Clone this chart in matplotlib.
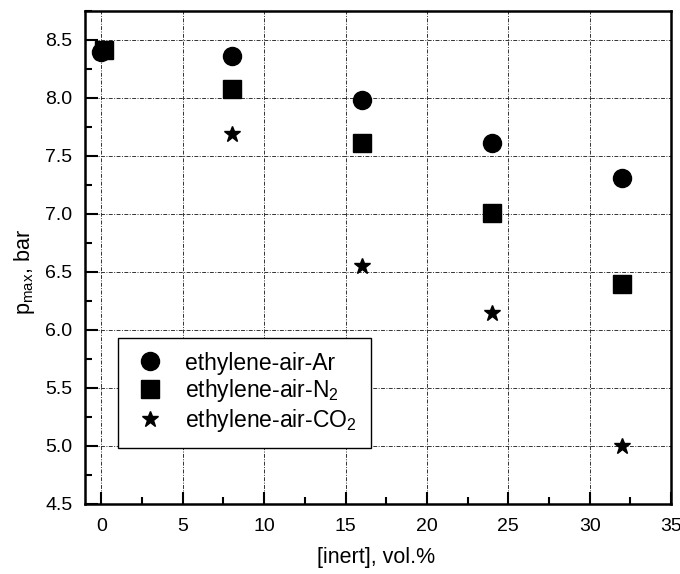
import matplotlib.pyplot as plt
from matplotlib.ticker import MultipleLocator

plt.rcParams['font.family'] = ['Liberation Sans', 'DejaVu Sans']
plt.rcParams['mathtext.fontset'] = 'custom'
plt.rcParams['mathtext.rm'] = 'Liberation Sans'
plt.rcParams['mathtext.it'] = 'Liberation Sans'

# data
x_ar = [0, 8, 16, 24, 32]
p_ar = [8.40, 8.36, 7.98, 7.61, 7.31]
x_n2 = [0.15, 8, 16, 24, 32]
p_n2 = [8.41, 8.08, 7.61, 7.01, 6.40]
x_co2 = [8, 16, 24, 32]
p_co2 = [7.69, 6.55, 6.15, 5.00]

labels = ['ethylene-air-Ar', 'ethylene-air-N$_2$', 'ethylene-air-CO$_2$']

fig = plt.figure(figsize=(6.8, 5.74), dpi=100)
ax = fig.add_axes([0.125, 0.122, 0.862, 0.859])

ax.plot(x_ar, p_ar, 'o', color='black', markersize=13, label=labels[0])
ax.plot(x_n2, p_n2, 's', color='black', markersize=12.5, label=labels[1])
ax.plot(x_co2, p_co2, '*', color='black', markersize=12, label=labels[2])

ax.set_xlim(-1, 35)
ax.set_ylim(4.5, 8.75)
ax.xaxis.set_major_locator(MultipleLocator(5))
ax.xaxis.set_minor_locator(MultipleLocator(2.5))
ax.yaxis.set_major_locator(MultipleLocator(0.5))
ax.yaxis.set_minor_locator(MultipleLocator(0.25))
ax.yaxis.set_major_formatter(plt.FormatStrFormatter('%.1f'))

ax.tick_params(which='major', direction='in', length=9, width=1.5, labelsize=14)
ax.tick_params(axis='x', which='major', pad=10)
ax.tick_params(axis='y', which='major', pad=9)
ax.tick_params(which='minor', direction='in', length=5, width=1.5)
for s in ax.spines.values():
    s.set_linewidth(1.8)

ax.grid(True, which='major', color='#333333', linewidth=0.7, linestyle=(0, (4, 1.5, 1, 1.5)))
ax.set_axisbelow(True)

ax.set_xlabel('[inert], vol.%', fontsize=15.5)
ax.set_ylabel('p$_{\\mathrm{max}}$, bar', fontsize=15.5)
ax.xaxis.set_label_coords(0.497, -0.087)
ax.yaxis.set_label_coords(-0.082, 0.47)

leg = ax.legend(loc='lower left', bbox_to_anchor=(0.0563, 0.114), borderaxespad=0,
                fontsize=16.5, frameon=True, fancybox=False, edgecolor='black',
                framealpha=1, markerscale=1.0, handletextpad=0.73, borderpad=0.6,
                labelspacing=0.12, handlelength=1.6)
leg.get_frame().set_linewidth(1.0)

fig.savefig('out.png', dpi=100)
